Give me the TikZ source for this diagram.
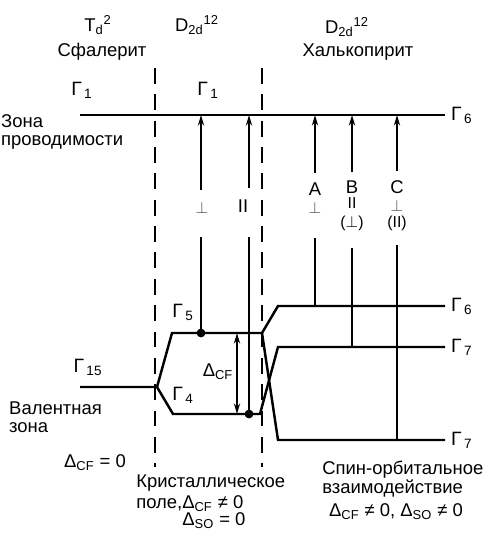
\documentclass[tikz,border=0pt]{standalone}
\usepackage{fontspec}
\setmainfont{Liberation Sans}
\usetikzlibrary{arrows.meta}
\newcommand{\Gm}[1]{Γ\textsubscript{\,#1}}
\newcommand{\Dl}[1]{Δ\textsubscript{#1}}

\begin{document}
\begin{tikzpicture}[x=0.02cm,y=-0.02cm,
    level/.style={line width=1.4pt},
    trans/.style={line width=1.1pt},
    sep/.style={line width=1.1pt,dash pattern=on 9pt off 6pt},
    lbl/.style={font=\fontsize{10.5}{10.5}\selectfont,inner sep=0.5pt},
    gam/.style={font=\fontsize{11}{12}\selectfont,inner sep=1pt},
    pol/.style={font=\fontsize{9}{9}\selectfont,inner sep=0pt},
    up/.style={trans,-{Stealth[length=6pt,width=3.5pt]}},
    dot/.style={circle,fill,inner sep=0pt,minimum size=5pt}]

  \useasboundingbox (0,0) rectangle (495,534);

  % Заголовки
  \node[lbl] (td) at (98,25) {T\textsubscript{d}\textsuperscript{2}};
  \node[lbl] (sfal) at (102,52) {Сфалерит};
  \node[lbl] (d2a) at (197,25) {D\textsubscript{2d}\textsuperscript{12}};
  \node[lbl] (d2b) at (347,27) {D\textsubscript{2d}\textsuperscript{12}};
  \node[lbl] (halk) at (358,52) {Халькопирит};

  % Разделители
  \draw[sep] (155,68) -- (155,467);
  \draw[sep] (262,68) -- (262,467);

  % Зона проводимости
  \node[gam] (g1a) at (82,90) {\Gm{1}};
  \node[gam] (g1b) at (208,90) {\Gm{1}};
  \node[lbl,anchor=west,align=left] (zp) at (0,132) {Зона\\проводимости};
  \coordinate (cb0) at (80,115);
  \coordinate (cb1) at (445,115);
  \draw[level] (cb0) -- (cb1);
  \node[gam,anchor=west] (g6c) at (449,115) {\Gm{6}};

  % Валентная зона
  \coordinate (v15a) at (80,387);
  \coordinate (v15b) at (157,387);
  \coordinate (g5a) at (172,333);
  \coordinate (g5b) at (262,333);
  \coordinate (g4a) at (173,414);
  \coordinate (g4b) at (260,414);
  \coordinate (g6a) at (278,306);
  \coordinate (g6b) at (445,306);
  \coordinate (g7a) at (278,347);
  \coordinate (g7b) at (445,347);
  \coordinate (g7c) at (278,440);
  \coordinate (g7d) at (445,440);
  \draw[level] (v15a) -- (v15b) -- (g5a) -- (g5b) -- (g6a) -- (g6b);
  \draw[level] (v15b) -- (g4a) -- (g4b) -- (g7a) -- (g7b);
  \draw[level] (g5b) -- (g7c) -- (g7d);

  \node[gam] (g15) at (88,367) {\Gm{15}};
  \node[gam] (g5) at (183,312) {\Gm{5}};
  \node[gam] (g4) at (183,395) {\Gm{4}};
  \node[gam,anchor=west] (g6) at (449,306) {\Gm{6}};
  \node[gam,anchor=west] (g7u) at (449,347) {\Gm{7}};
  \node[gam,anchor=west] (g7l) at (449,440) {\Gm{7}};

  % Переходы
  \foreach \n/\x/\ytop/\ybot/\yend in {p/201/190/237/333, q/249/188/237/414,
      a/315/173/238/306, b/352/172/248/347, c/397/171/245/440}{
    \coordinate (\n t) at (\x,\ytop);
    \coordinate (\n b) at (\x,\ybot);
    \coordinate (\n e) at (\x,\yend);
    \draw[up] (\n t) -- (\n t |- cb1);
    \draw[trans] (\n b) -- (\n e);
  }
  \node[dot] (dp) at (pe) {};
  \node[dot] (dq) at (qe) {};

  \node[pol,black!70] (lp) at (202,208) {$\perp$};
  \node[pol,font=\fontsize{10.5}{10.5}\selectfont] (lq) at (243,206) {II};
  \node[lbl,inner sep=0pt] (la) at (315,189) {A};
  \node[pol,black!70] (la2) at (315,208) {$\perp$};
  \node[lbl,inner sep=0pt] (lb) at (352,187) {B};
  \node[pol] (lb2) at (352,203) {II};
  \node[pol] (lb3) at (352,223) {(${\perp}$)};
  \node[lbl,inner sep=0pt] (lc) at (397,187) {C};
  \node[pol,black!70] (lc2) at (397,206) {$\perp$};
  \node[pol] (lc3) at (397,223) {(II)};

  % Кристаллическое поле
  \coordinate (dcf1) at (237,333);
  \coordinate (dcf2) at (237,414);
  \draw[trans,{Stealth[length=6pt,width=3.5pt]}-{Stealth[length=6pt,width=3.5pt]}] (dcf1) -- (dcf2);
  \node[lbl] (dcf) at (218,372) {\Dl{CF}};

  % Подписи снизу
  \node[lbl,anchor=west,align=left] (vz) at (8,417) {Валентная\\зона};
  \node[lbl] (cf0) at (95,463) {\Dl{CF} = 0};
  \node[lbl,anchor=west,inner sep=0pt] (kr1) at (136,483) {Кристаллическое};
  \node[lbl,anchor=west,inner sep=0pt] (kr2) at (136,504) {поле,\Dl{CF} ≠ 0};
  \node[lbl,anchor=west,inner sep=0pt] (kr3) at (182,521) {\Dl{SO} = 0};
  \node[lbl,anchor=west,inner sep=0pt] (so1) at (322,470) {Спин-орбитальное};
  \node[lbl,anchor=west,inner sep=0pt] (so2) at (322,488) {взаимодействие};
  \node[lbl,inner sep=0pt] (so3) at (396,512) {\Dl{CF} ≠ 0, \Dl{SO} ≠ 0};
\end{tikzpicture}
\end{document}
